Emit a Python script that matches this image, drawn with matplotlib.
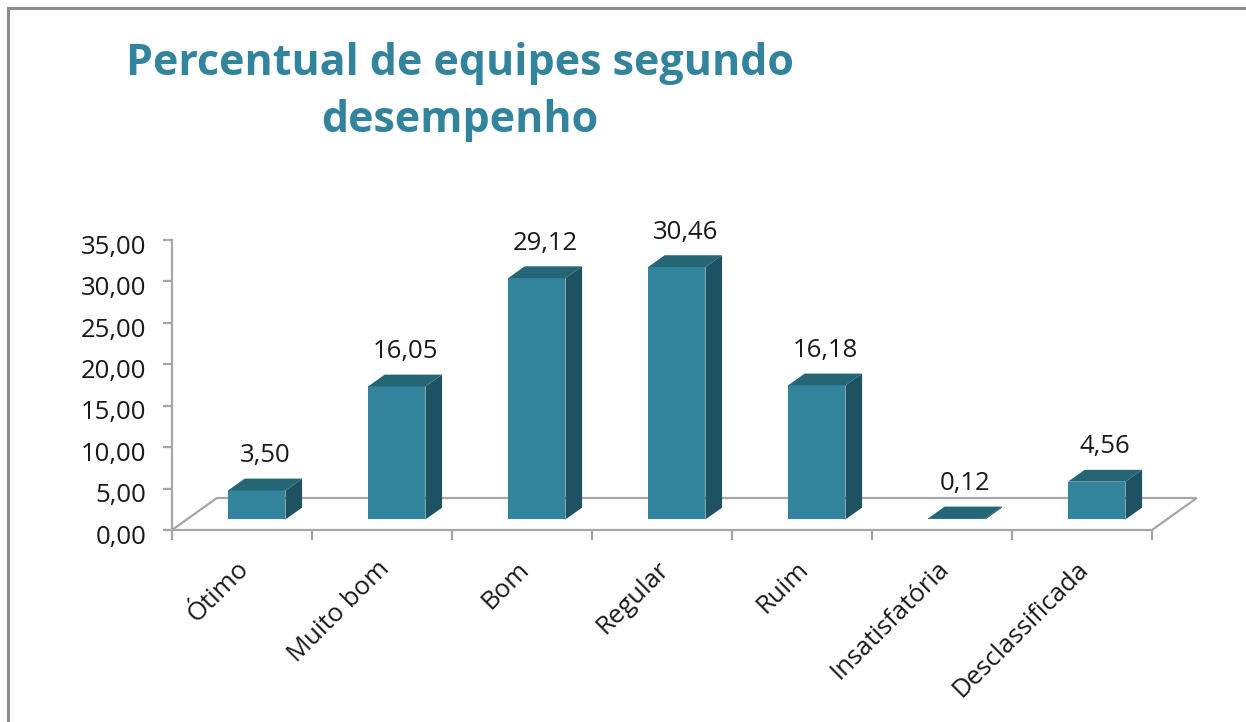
import matplotlib.pyplot as plt
import numpy as np
from matplotlib.patches import Polygon, Rectangle
from matplotlib.transforms import ScaledTranslation

categories = ["Ótimo", "Muito bom", "Bom", "Regular", "Ruim", "Insatisfatória", "Desclassificada"]
values = [3.50, 16.05, 29.12, 30.46, 16.18, 0.12, 4.56]
yticks = [0, 5, 10, 15, 20, 25, 30, 35]

plt.rcParams["font.family"] = ["Open Sans", "DejaVu Sans"]

TEAL = "#31849B"
TOP = "#246676"
SIDE = "#1D5263"
GRID = "#A6A6A6"
TXT = "#1A1A1A"
FS = 18.5

# 3D look: floor depth in data units, bar position inside that depth
DX, DY = 0.32, 3.86
F0, F1 = 0.33, 0.70
BW = 0.41


def fmt(v):
    return f"{v:.2f}".replace(".", ",")


fig = plt.figure(figsize=(12.46, 7.22), dpi=100)
ax = fig.add_axes([172 / 1246, 192 / 722, 980 / 1246, 290 / 722])
ax.set_xlim(-0.5, len(categories) - 0.5)
ax.set_ylim(0, 35)

# frame around the chart area
fig.patches.append(Rectangle((8 / 1246, -0.1), 1.2, (722 - 8) / 722 + 0.1,
                             transform=fig.transFigure, fill=False,
                             edgecolor="#8C8C8C", linewidth=2.2))

# floor outline (back + sides); front edge is the bottom spine
x0, x1 = -0.5, len(categories) - 0.5
ax.plot([x0, x0 + DX, x1 + DX, x1], [0, DY, DY, 0], color=GRID, lw=1.6,
        clip_on=False, zorder=1, solid_joinstyle="miter")

for i, v in enumerate(values):
    bx = i - BW / 2 + F0 * DX
    by = F0 * DY
    sx = (F1 - F0) * DX
    sy = (F1 - F0) * DY
    front = Rectangle((bx, by), BW, v, facecolor=TEAL, edgecolor="none", zorder=3, clip_on=False)
    top = Polygon([(bx, by + v), (bx + BW, by + v), (bx + BW + sx, by + v + sy), (bx + sx, by + v + sy)],
                  closed=True, facecolor=TOP, edgecolor="none", zorder=3, clip_on=False)
    side = Polygon([(bx + BW, by), (bx + BW + sx, by + sy), (bx + BW + sx, by + v + sy), (bx + BW, by + v)],
                   closed=True, facecolor=SIDE, edgecolor="none", zorder=3, clip_on=False)
    for p in (front, top, side):
        ax.add_patch(p)
    ax.text(bx + (BW + sx) / 2, by + v + sy + 2.0, fmt(v), ha="center", va="baseline",
            fontsize=FS, color=TXT, zorder=4)

for s in ("top", "right"):
    ax.spines[s].set_visible(False)
ax.spines["left"].set_color(GRID)
ax.spines["left"].set_linewidth(1.6)
ax.spines["bottom"].set_color(GRID)
ax.spines["bottom"].set_linewidth(1.6)

ax.set_yticks(yticks)
ax.set_yticklabels([fmt(t) for t in yticks])
ax.tick_params(axis="y", colors=GRID, labelcolor=TXT, labelsize=FS, length=6.5, width=1.6, pad=12)
for lab in ax.get_yticklabels():
    lab.set_transform(lab.get_transform() + ScaledTranslation(0, -3 / 72, fig.dpi_scale_trans))

ax.set_xticks(np.arange(len(categories) + 1) - 0.5)
ax.set_xticklabels([""] * (len(categories) + 1))
ax.tick_params(axis="x", which="major", colors=GRID, length=7, width=1.6)
ax.set_xticks(np.arange(len(categories)), minor=True)
ax.set_xticklabels(categories, minor=True, rotation=45, ha="right", rotation_mode="anchor")
ax.tick_params(axis="x", which="minor", length=0, labelsize=FS, labelcolor=TXT, pad=19)
for lab in ax.get_xticklabels(minor=True):
    lab.set_transform(lab.get_transform() + ScaledTranslation(-4 / 72, 0, fig.dpi_scale_trans))

fig.text(460 / 1246, 1 - 92 / 722, "Percentual de equipes segundo\ndesempenho", ha="center", va="center",
         fontsize=31, fontweight="bold", color="#31849B", linespacing=1.45)

fig.savefig("out.png", dpi=100)
